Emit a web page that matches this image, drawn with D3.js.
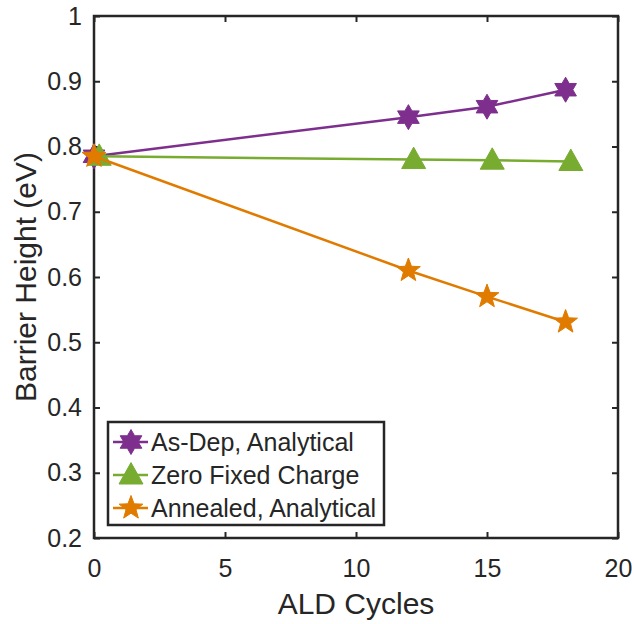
<!DOCTYPE html>
<html>
<head>
<meta charset="utf-8">
<script src="https://cdn.jsdelivr.net/npm/d3@7"></script>
<style>
  body { margin: 0; background: #fff; }
  text { font-family: "Liberation Sans", Arial, sans-serif; fill: #262626; }
</style>
</head>
<body>
<svg id="chart"></svg>
<script>
// Data
const asDepX = [0, 12, 15, 18];
const asDepY = [0.785, 0.845, 0.861, 0.887];
const zeroX = [0.2, 12.2, 15.2, 18.2];
const zeroY = [0.785, 0.780, 0.779, 0.777];
const annealX = [0, 12, 15, 18];
const annealY = [0.785, 0.610, 0.570, 0.531];
const seriesNames = ["As-Dep, Analytical", "Zero Fixed Charge", "Annealed, Analytical"];
const xTicks = [0, 5, 10, 15, 20];
const yTicks = [0.2, 0.3, 0.4, 0.5, 0.6, 0.7, 0.8, 0.9, 1];

const width = 634;
const height = 624;
const margin = {top: 16, right: 16, bottom: 86, left: 94};

const svg = d3.select("#chart")
    .attr("width", width)
    .attr("height", height);

const xScale = d3.scaleLinear()
    .domain([0, 20])
    .range([margin.left, width - margin.right]);

const yScale = d3.scaleLinear()
    .domain([0.2, 1])
    .range([height - margin.bottom, margin.top]);

// star shaped markers
function starPath(points, rOut, rIn) {
    const p = d3.path();
    for (let i = 0; i < points * 2; i++) {
        const r = i % 2 === 0 ? rOut : rIn;
        const a = -Math.PI / 2 + i * Math.PI / points;
        if (i === 0) p.moveTo(r * Math.cos(a), r * Math.sin(a));
        else p.lineTo(r * Math.cos(a), r * Math.sin(a));
    }
    p.closePath();
    return p.toString();
}
function trianglePath(s) {
    return `M0,${-s * 0.62}L${s * 0.6},${s * 0.45}L${-s * 0.6},${s * 0.45}Z`;
}

const series = [
    {name: seriesNames[0], xs: asDepX, ys: asDepY, color: "#7e2f8e", marker: starPath(6, 12.5, 7.2)},
    {name: seriesNames[1], xs: zeroX, ys: zeroY, color: "#77ac30", marker: trianglePath(20)},
    {name: seriesNames[2], xs: annealX, ys: annealY, color: "#e07b00", marker: starPath(5, 12.5, 5.2)}
];

// axes (box with inward ticks on all sides)
const axisColor = "#262626";
const tick = 6;
const axisG = svg.append("g");

axisG.append("g")
    .attr("transform", `translate(0,${height - margin.bottom})`)
    .call(d3.axisBottom(xScale).tickValues(xTicks).tickSizeInner(-tick).tickSizeOuter(0).tickPadding(21).tickFormat(d3.format("d")));
axisG.append("g")
    .attr("transform", `translate(0,${margin.top})`)
    .call(d3.axisTop(xScale).tickValues(xTicks).tickSizeInner(-tick).tickSizeOuter(0).tickFormat(""));
axisG.append("g")
    .attr("transform", `translate(${margin.left},0)`)
    .call(d3.axisLeft(yScale).tickValues(yTicks).tickSizeInner(-tick).tickSizeOuter(0).tickPadding(12).tickFormat(d => d === 1 ? "1" : d3.format(".1f")(d)));
axisG.append("g")
    .attr("transform", `translate(${width - margin.right},0)`)
    .call(d3.axisRight(yScale).tickValues(yTicks).tickSizeInner(-tick).tickSizeOuter(0).tickFormat(""));

axisG.selectAll(".domain").remove();
axisG.selectAll("line").attr("stroke", axisColor).attr("stroke-width", 2);
axisG.selectAll("text").style("font-size", "25px").attr("fill", axisColor)
    .style("font-family", "'Liberation Sans', Arial, sans-serif");

axisG.append("rect")
    .attr("x", margin.left)
    .attr("y", margin.top)
    .attr("width", width - margin.left - margin.right)
    .attr("height", height - margin.top - margin.bottom)
    .attr("fill", "none")
    .attr("stroke", axisColor)
    .attr("stroke-width", 2.5);

// axis labels
svg.append("text")
    .attr("x", (margin.left + width - margin.right) / 2)
    .attr("y", 614)
    .style("text-anchor", "middle")
    .style("font-size", "30px")
    .text("ALD Cycles");

svg.append("text")
    .attr("transform", "rotate(-90)")
    .attr("x", -(margin.top + height - margin.bottom) / 2)
    .attr("y", 36)
    .style("text-anchor", "middle")
    .style("font-size", "30px")
    .text("Barrier Height (eV)");

// lines and markers
series.forEach(s => {
    const pts = s.xs.map((x, i) => [x, s.ys[i]]);
    svg.append("path")
        .datum(pts)
        .attr("fill", "none")
        .attr("stroke", s.color)
        .attr("stroke-width", 2.5)
        .attr("d", d3.line().x(d => xScale(d[0])).y(d => yScale(d[1])));
    svg.selectAll(null)
        .data(pts)
        .enter()
        .append("path")
        .attr("transform", d => `translate(${xScale(d[0])},${yScale(d[1])})`)
        .attr("d", s.marker)
        .attr("fill", s.color)
        .attr("stroke", s.color)
        .attr("stroke-width", 1);
});

// legend
const legend = svg.append("g");
legend.append("rect")
    .attr("x", 108)
    .attr("y", 422)
    .attr("width", 276)
    .attr("height", 103)
    .attr("fill", "#fff")
    .attr("stroke", axisColor)
    .attr("stroke-width", 2.5);

series.forEach((s, i) => {
    const cy = 442 + i * 33;
    legend.append("line")
        .attr("x1", 113).attr("x2", 148)
        .attr("y1", cy).attr("y2", cy)
        .attr("stroke", s.color)
        .attr("stroke-width", 2.5);
    legend.append("path")
        .attr("transform", `translate(131,${cy})`)
        .attr("d", s.marker)
        .attr("fill", s.color)
        .attr("stroke", s.color);
    legend.append("text")
        .attr("x", 151)
        .attr("y", cy)
        .attr("dy", "0.35em")
        .style("font-size", "25px")
        .text(s.name);
});
</script>
</body>
</html>
